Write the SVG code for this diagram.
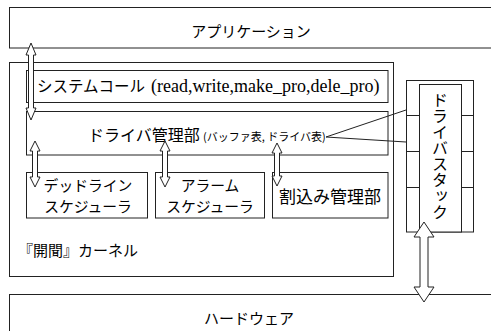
<svg xmlns="http://www.w3.org/2000/svg" width="491" height="331" viewBox="0 0 491 331">
<style>
.box{fill:#fff;stroke:#222;stroke-width:1}
.arr{fill:#fff;stroke:#222;stroke-width:1;stroke-linejoin:miter}
.ln{fill:none;stroke:#222;stroke-width:1}
.jp{font-family:"Noto Sans CJK JP","Noto Sans",sans-serif;fill:#000}
.ser{font-family:"Liberation Serif",serif;fill:#000}
</style>
<rect width="491" height="331" fill="#fff"/>
<g id="application">
<rect class="box" x="9.5" y="7.5" width="490" height="40.5"/>
<text class="jp" x="251" y="37" font-size="15" text-anchor="middle">アプリケーション</text>
</g>
<g id="kernel">
<rect class="box" x="9.5" y="62.5" width="384" height="214"/>
<text class="jp" x="18" y="256" font-size="15">『開聞』カーネル</text>
</g>
<g id="syscall">
<rect class="box" x="26.5" y="70.5" width="361.5" height="32"/>
<text class="jp" x="37" y="92" font-size="15.5">システムコール</text>
<text class="ser" x="151" y="92" font-size="18" style="font-family:'Liberation Serif',serif">(read,write,make_pro,dele_pro)</text>
</g>
<g id="driver-manager">
<rect class="box" x="26.5" y="111.5" width="361.5" height="43.5"/>
<text class="jp" x="88" y="141" font-size="16">ドライバ管理部</text>
<text class="jp" x="203" y="141" font-size="11">(バッファ表, ドライバ表)</text>
</g>
<g id="deadline">
<rect class="box" x="26.5" y="172.5" width="121" height="45.5"/>
<text class="jp" x="88" y="190.5" font-size="14.8" text-anchor="middle">デッドライン</text>
<text class="jp" x="88" y="212" font-size="14.8" text-anchor="middle">スケジューラ</text>
</g>
<g id="alarm">
<rect class="box" x="155.5" y="172.5" width="109" height="45.5"/>
<text class="jp" x="210" y="190.5" font-size="14.8" text-anchor="middle">アラーム</text>
<text class="jp" x="210" y="212" font-size="14.8" text-anchor="middle">スケジューラ</text>
</g>
<g id="interrupt">
<rect class="box" x="272.5" y="172.5" width="115.5" height="45.5"/>
<text class="jp" x="330" y="203" font-size="17" text-anchor="middle">割込み管理部</text>
</g>
<g id="driver-stack">
<rect class="box" x="406.5" y="80.5" width="67" height="151.5"/>
<rect class="box" x="419.5" y="84.5" width="42" height="147.5"/>
<path class="ln" d="M406.5 115.5H419.5M406.5 151.5H419.5M406.5 187.5H419.5M461.5 115.5H473.5M461.5 151.5H473.5M461.5 187.5H473.5"/>
<text class="jp" x="440" y="92" font-size="16" style="writing-mode:vertical-rl">ドライバスタック</text>
</g>
<g id="hardware">
<rect class="box" x="9.5" y="294.5" width="490" height="50"/>
<text class="jp" x="249" y="324" font-size="15" text-anchor="middle">ハードウェア</text>
</g>
<g id="connectors">
<path class="arr" d="M31 43L36 55H33.5V108H36L31 120L26 108H28.5V55H26Z"/>
<path class="arr" d="M35 141L40 151H37.5V177H40L35 187L30 177H32.5V151H30Z"/>
<path class="arr" d="M165 141L170 151H167.5V177H170L165 187L160 177H162.5V151H160Z"/>
<path class="arr" d="M277 143L282 153H279.5V176H282L277 186L272 176H274.5V153H272Z"/>
<path class="arr" d="M424 222L434 237H428V287H434L424 302L414 287H420V237H414Z"/>
<path class="ln" d="M406 110L326 137L406 142"/>
</g>
</svg>
